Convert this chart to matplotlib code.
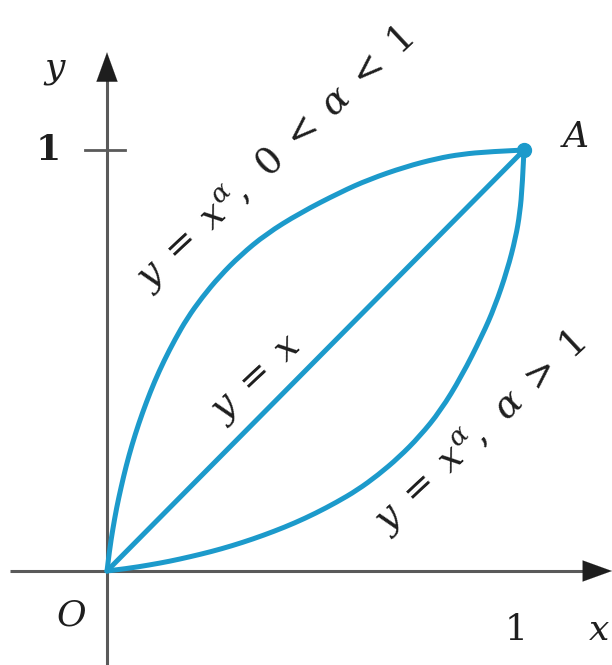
import matplotlib
matplotlib.use("Agg")
import matplotlib.pyplot as plt
from matplotlib.path import Path
from matplotlib.patches import PathPatch

plt.rcParams["mathtext.fontset"] = "dejavuserif"
plt.rcParams["font.family"] = ["DejaVu Serif"]

# Curve through O and A, convex branch (alpha > 1)
lower_x = [0.00, 0.05, 0.10, 0.15, 0.20, 0.25, 0.30, 0.35, 0.40, 0.45, 0.50, 0.55, 0.60,
           0.65, 0.70, 0.75, 0.80, 0.85, 0.90, 0.93, 0.96, 0.98, 0.99, 0.996, 1.00]
lower_y = [0.000, 0.006, 0.014, 0.023, 0.034, 0.046, 0.060, 0.076, 0.094, 0.114, 0.137, 0.163, 0.192,
           0.228, 0.270, 0.320, 0.381, 0.462, 0.560, 0.628, 0.715, 0.792, 0.850, 0.915, 1.000]

# Curve through O and A, concave branch (0 < alpha < 1)
upper_x = [0.000, 0.006, 0.014, 0.023, 0.034, 0.046, 0.060, 0.076, 0.094, 0.114, 0.137, 0.163, 0.192,
           0.228, 0.270, 0.320, 0.381, 0.462, 0.560, 0.628, 0.715, 0.792, 0.850, 0.915, 1.000]
upper_y = [0.00, 0.05, 0.10, 0.15, 0.20, 0.25, 0.30, 0.35, 0.40, 0.45, 0.50, 0.55, 0.60,
           0.65, 0.70, 0.75, 0.80, 0.85, 0.90, 0.93, 0.96, 0.98, 0.99, 0.996, 1.00]

# Straight line y = x
diag_x = [0.0, 1.0]
diag_y = [0.0, 1.0]

point_A = (1.0, 1.0)

CURVE = "#1c9acb"
AXIS = "#5a5a5a"
INK = "#1e1e1e"


def smooth_path(xs, ys):
    """Quadratic B-spline style path: each sample is a control point."""
    pts = list(zip(xs, ys))
    verts = [pts[0]]
    codes = [Path.MOVETO]
    for i in range(1, len(pts) - 1):
        if i == len(pts) - 2:
            end = pts[-1]
        else:
            end = ((pts[i][0] + pts[i + 1][0]) / 2, (pts[i][1] + pts[i + 1][1]) / 2)
        verts += [pts[i], end]
        codes += [Path.CURVE3, Path.CURVE3]
    return Path(verts, codes)


fig = plt.figure(figsize=(6.12, 6.65), dpi=100)
ax = fig.add_axes([0, 0, 1, 1])
ax.set_xlim(-0.2566, 1.211)
ax.set_ylim(-0.2233, 1.3563)
ax.axis("off")

# coordinate axes
ax.plot([-0.233, 1.17], [0, 0], color=AXIS, lw=2.2, solid_capstyle="butt", zorder=1)
ax.plot([0, 0], [-0.2233, 1.18], color=AXIS, lw=2.2, solid_capstyle="butt", zorder=1)
head = dict(arrowstyle="-|>,head_length=1.05,head_width=0.38", color=INK,
            lw=0.1, mutation_scale=20, shrinkA=0, shrinkB=0)
ax.annotate("", xy=(1.211, 0), xytext=(1.15, 0), arrowprops=head)
ax.annotate("", xy=(0, 1.232), xytext=(0, 1.17), arrowprops=head)

# tick at y = 1
ax.plot([-0.053, 0.043], [1, 1], color=AXIS, lw=2.0, zorder=1)

# curves
for xs, ys in ((upper_x, upper_y), (lower_x, lower_y)):
    ax.add_patch(PathPatch(smooth_path(xs, ys), facecolor="none", edgecolor=CURVE,
                           lw=3.6, capstyle="round", joinstyle="round", zorder=3))
ax.plot(diag_x, diag_y, color=CURVE, lw=3.6, solid_capstyle="round", zorder=3)
ax.plot(*point_A, "o", color=CURVE, ms=10, zorder=4)

# axis labels
ax.text(-0.125, 1.19, r"$y$", fontsize=26, color=INK, ha="center", va="center")
ax.text(-0.142, 1.0, "1", fontsize=26, color=INK, ha="center", va="center", fontweight="bold")
ax.text(-0.085, -0.105, r"$O$", fontsize=26, color=INK, ha="center", va="center")
ax.text(0.98, -0.14, "1", fontsize=26, color=INK, ha="center", va="center")
ax.text(1.18, -0.14, r"$x$", fontsize=26, color=INK, ha="center", va="center")
ax.text(1.12, 1.03, r"$A$", fontsize=26, color=INK, ha="center", va="center", fontweight="bold")

# curve labels
ax.text(0.403, 0.979, r"$y\;=\;x^{\alpha},\;\,0\;<\;\alpha\;<\;1$", fontsize=27, color=INK,
        rotation=43, rotation_mode="anchor", ha="center", va="center")
ax.text(0.36, 0.455, r"$y\;=\;x$", fontsize=27, color=INK,
        rotation=43, rotation_mode="anchor", ha="center", va="center")
ax.text(0.894, 0.328, r"$y\;=\;x^{\alpha},\;\,\alpha\;>\;1$", fontsize=27, color=INK,
        rotation=43, rotation_mode="anchor", ha="center", va="center")

fig.savefig("out.png", dpi=100)
